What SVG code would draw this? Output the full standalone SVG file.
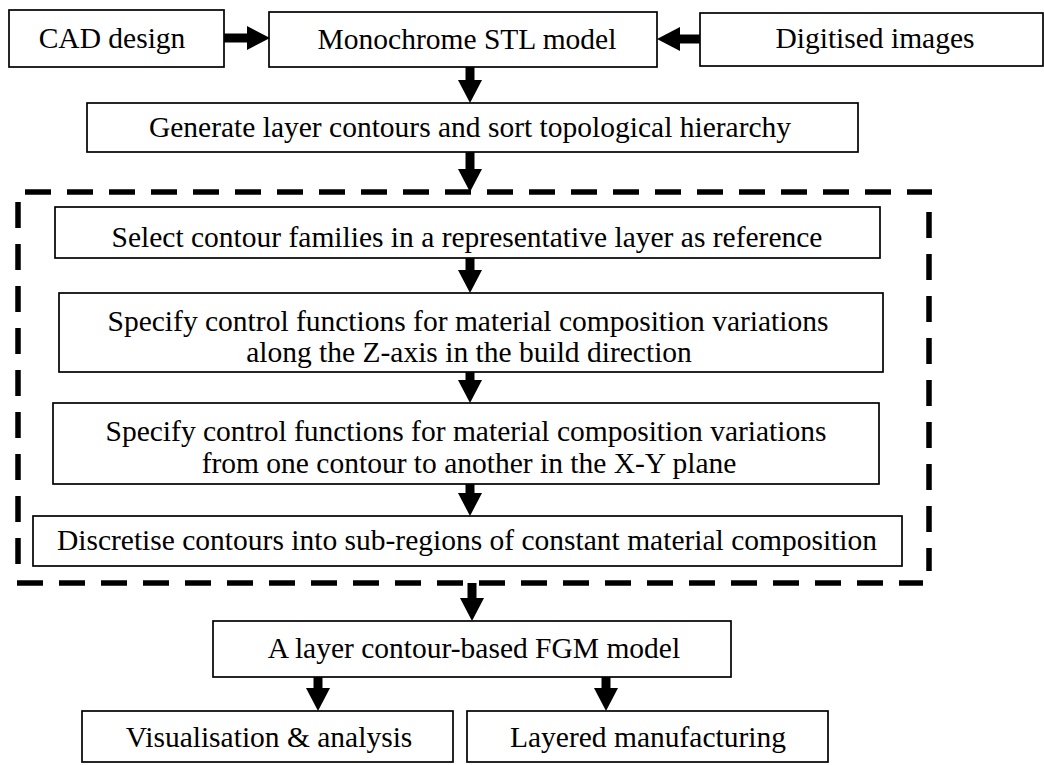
<svg xmlns="http://www.w3.org/2000/svg" width="1044" height="765" viewBox="0 0 1044 765">
<style>
.box{fill:#fff;stroke:#000;stroke-width:1.7}
.t{font-family:'Liberation Serif','Times New Roman',serif;font-size:29.5px;fill:#000;text-anchor:middle}
.arr{stroke:#000;stroke-width:9;fill:none}
.dash{stroke:#000;stroke-width:5.5;fill:none;stroke-dasharray:26 16}
</style>
<defs>
<marker id="ah" markerUnits="userSpaceOnUse" markerWidth="24" markerHeight="24" refX="0" refY="12" orient="auto" viewBox="0 0 24 24">
<path d="M0,0 L23,12 L0,24 Z" fill="#000"/>
</marker>
</defs>
<g id="dashed-frame">
<line class="dash" x1="25" y1="192" x2="932" y2="192"/>
<line class="dash" x1="929" y1="212" x2="929" y2="571"/>
<line class="dash" x1="17" y1="583" x2="923" y2="583"/>
<line class="dash" x1="18" y1="202" x2="18" y2="580"/>
</g>
<g id="cad"><rect class="box" x="9" y="10" width="215" height="57"/><text class="t" x="112" y="48">CAD design</text></g>
<g id="stl"><rect class="box" x="269" y="12" width="388" height="55"/><text class="t" x="467" y="49">Monochrome STL model</text></g>
<g id="digitised"><rect class="box" x="700" y="13" width="343" height="53"/><text class="t" x="875" y="48">Digitised images</text></g>
<g id="generate"><rect class="box" x="87" y="103" width="771" height="49"/><text class="t" x="470" y="137">Generate layer contours and sort topological hierarchy</text></g>
<g id="select"><rect class="box" x="55" y="207" width="825" height="51"/><text class="t" x="467" y="247">Select contour families in a representative layer as reference</text></g>
<g id="specify-z"><rect class="box" x="59" y="293" width="824" height="79"/><text class="t" x="468" y="331">Specify control functions for material composition variations</text><text class="t" x="469" y="362">along the Z-axis in the build direction</text></g>
<g id="specify-xy"><rect class="box" x="53" y="403" width="826" height="81"/><text class="t" x="466" y="441">Specify control functions for material composition variations</text><text class="t" x="469" y="473">from one contour to another in the X-Y plane</text></g>
<g id="discretise"><rect class="box" x="33" y="516" width="869" height="50"/><text class="t" x="467" y="550">Discretise contours into sub-regions of constant material composition</text></g>
<g id="fgm"><rect class="box" x="213" y="621" width="518" height="56"/><text class="t" x="474" y="658">A layer contour-based FGM model</text></g>
<g id="visualisation"><rect class="box" x="82" y="711" width="371" height="51"/><text class="t" x="269" y="747">Visualisation &amp; analysis</text></g>
<g id="layered"><rect class="box" x="467" y="711" width="361" height="51"/><text class="t" x="648" y="747">Layered manufacturing</text></g>
<g id="connectors">
<line class="arr" x1="224" y1="38" x2="247" y2="38" marker-end="url(#ah)"/>
<line class="arr" x1="700" y1="39" x2="680" y2="39" marker-end="url(#ah)"/>
<line class="arr" x1="470" y1="67" x2="470" y2="80" marker-end="url(#ah)"/>
<line class="arr" x1="470" y1="152" x2="470" y2="169" marker-end="url(#ah)"/>
<line class="arr" x1="470" y1="258" x2="470" y2="270" marker-end="url(#ah)"/>
<line class="arr" x1="470" y1="372" x2="470" y2="380" marker-end="url(#ah)"/>
<line class="arr" x1="470" y1="484" x2="470" y2="493" marker-end="url(#ah)"/>
<line class="arr" x1="472" y1="583" x2="472" y2="598" marker-end="url(#ah)"/>
<line class="arr" x1="318" y1="677" x2="318" y2="688" marker-end="url(#ah)"/>
<line class="arr" x1="606" y1="677" x2="606" y2="688" marker-end="url(#ah)"/>
</g>
</svg>
